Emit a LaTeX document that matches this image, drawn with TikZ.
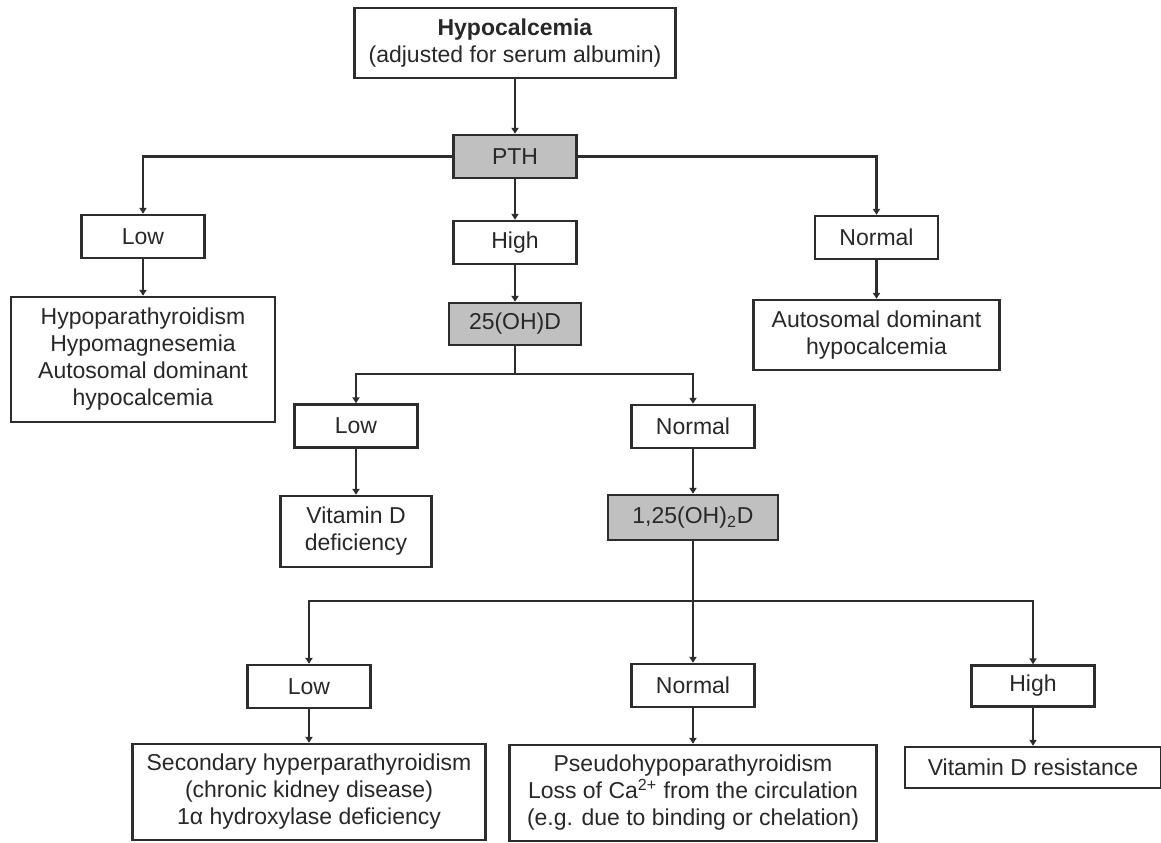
\documentclass[tikz,border=0pt]{standalone}
\usepackage{fontspec}
\setmainfont{Liberation Sans}
\usetikzlibrary{positioning,arrows.meta}

\definecolor{boxline}{RGB}{45,45,45}
\definecolor{testfill}{RGB}{192,192,192}
\definecolor{ink}{RGB}{40,40,40}

\begin{document}
\begin{tikzpicture}[
    x=0.5pt, y=-0.5pt,
    box/.style={rectangle, draw=boxline, line width=1.25pt, fill=white, inner sep=0pt, align=center,
        text=ink, font=\fontsize{11.5}{13.5}\selectfont},
    test/.style={box, fill=testfill},
    result/.style={box, minimum width=61.5pt, minimum height=21.5pt},
    arrow/.style={-{Triangle[length=3pt,width=3.6pt]}, line width=1.1pt, draw=boxline},
    line/.style={line width=1.1pt, draw=boxline}
]
\useasboundingbox (0,0) rectangle (1161,842);

% Start
\node[box, minimum width=160.5pt, minimum height=35pt] (hypo) at (515,43) {\textbf{Hypocalcemia}\\(adjusted for serum albumin)};

% PTH
\node[test, minimum width=61.5pt, minimum height=21.5pt] (pth) at (515,156.5) {PTH};
\node[result] (pthlow) at (143,236.5) {Low};
\node[result] (pthhigh) at (515,242.5) {High};
\node[result] (pthnorm) at (876.5,237.5) {Normal};
\node[box, minimum width=132pt, minimum height=62.5pt] (hypopara) at (143,359.5) {Hypoparathyroidism\\Hypomagnesemia\\Autosomal dominant\\hypocalcemia};
\node[box, minimum width=123pt, minimum height=35pt] (adh) at (876.5,335) {Autosomal dominant\\hypocalcemia};

% 25(OH)D
\node[test, minimum width=66pt, minimum height=21pt] (ohd) at (515,324) {25(OH)D};
\node[result] (ohdlow) at (356,426) {Low};
\node[result] (ohdnorm) at (693,426.5) {Normal};
\node[box, minimum width=75.5pt, minimum height=35.5pt] (vitdef) at (356,531.5) {Vitamin D\\deficiency};

% 1,25(OH)2D
\node[test, minimum width=85pt, minimum height=22.5pt] (dihyd) at (693,517.5) {1,25(OH)\textsubscript{2}D};
\node[result] (dilow) at (309,686.5) {Low};
\node[result] (dinorm) at (693,685.5) {Normal};
\node[result, minimum height=20.5pt] (dihigh) at (1033,686) {High};
\node[box, minimum width=176.5pt, minimum height=48pt] (secondary) at (309,792) {Secondary hyperparathyroidism\\(chronic kidney disease)\\1α hydroxylase deficiency};
\node[box, minimum width=183.5pt, minimum height=48pt] (pseudo) at (693,793) {Pseudohypoparathyroidism\\Loss of Ca\textsuperscript{2+} from the circulation\\(e.g. due to binding or chelation)};
\node[box, minimum width=128pt, minimum height=20.5pt] (vitres) at (1033,767.5) {Vitamin D resistance};

% Split points
\coordinate (ohdsplit) at (515,374);
\coordinate (displit) at (693,601);

% Connections
\draw[arrow] (hypo) -- (pth);
\draw[arrow] (pth.west) -| (pthlow);
\draw[arrow] (pth.east) -| (pthnorm);
\draw[arrow] (pth) -- (pthhigh);
\draw[arrow] (pthlow) -- (hypopara);
\draw[arrow] (pthnorm) -- (adh);
\draw[arrow] (pthhigh) -- (ohd);

\draw[line] (ohd) -- (ohdsplit);
\draw[arrow] (ohdsplit) -| (ohdlow);
\draw[arrow] (ohdsplit) -| (ohdnorm);
\draw[arrow] (ohdlow) -- (vitdef);
\draw[arrow] (ohdnorm) -- (dihyd);

\draw[arrow] (dihyd) -- (dinorm);
\draw[arrow] (displit) -| (dilow);
\draw[arrow, line width=0.8pt] (displit) -| (dihigh);
\draw[arrow] (dilow) -- (secondary);
\draw[arrow] (dinorm) -- (pseudo);
\draw[arrow] (dihigh) -- (vitres);

\end{tikzpicture}
\end{document}
